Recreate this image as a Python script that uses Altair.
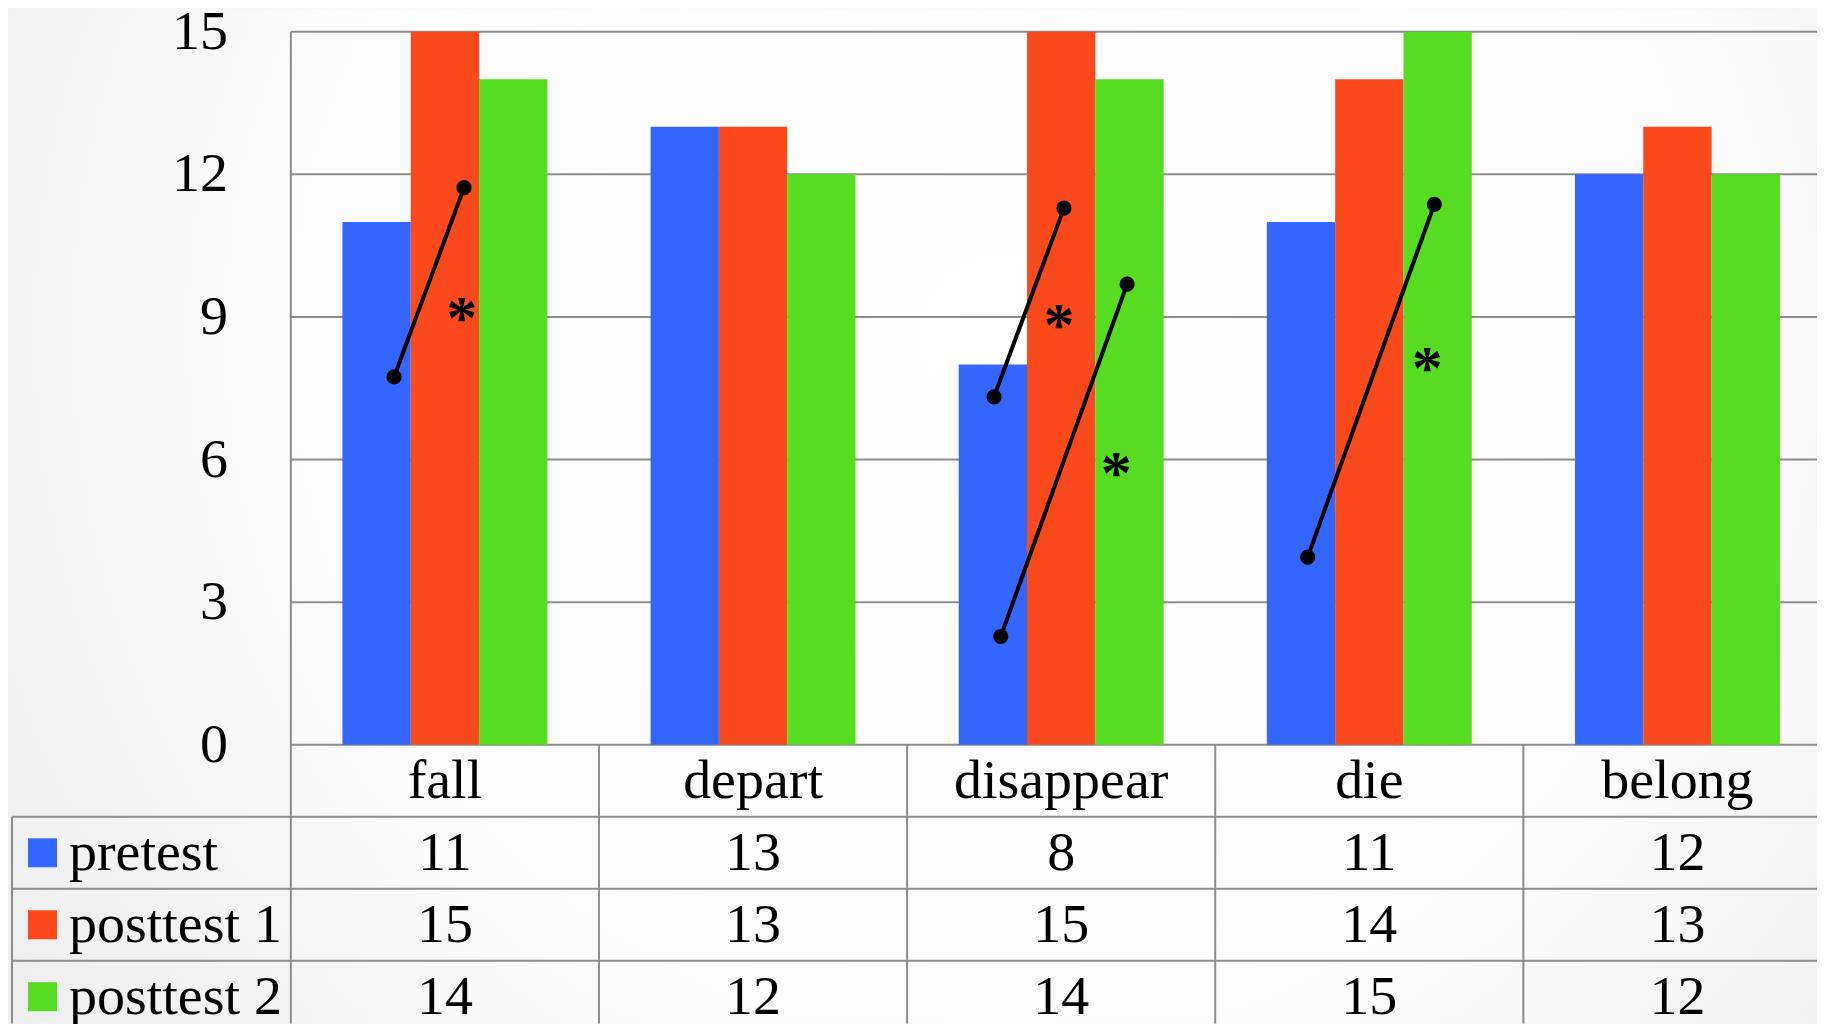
import altair as alt
import pandas as pd

# ---------------- data ----------------
categories = ["fall", "depart", "disappear", "die", "belong"]
series = ["pretest", "posttest 1", "posttest 2"]
pretest = [11, 13, 8, 11, 12]
posttest1 = [15, 13, 15, 14, 13]
posttest2 = [14, 12, 14, 15, 12]
colors = ["#3366FF", "#FA4A1B", "#56DD21"]
y_ticks = [0, 3, 6, 9, 12, 15]

# significance connectors (category, start offset/value, end offset/value)
sig_cat = ["fall", "disappear", "disappear", "die"]
sig_x1 = [0.335, 0.282, 0.304, 0.300]
sig_y1 = [7.74, 7.32, 2.28, 3.95]
sig_x2 = [0.562, 0.509, 0.714, 0.711]
sig_y2 = [11.72, 11.29, 9.69, 11.37]
star_x = [0.555, 0.493, 0.679, 0.688]
star_y = [9.18, 9.04, 5.92, 8.13]

# ---------------- layout ----------------
W, H = 1810, 1016
COL_PX = 308.3
PLOT_LEFT = 283.0         # px from left of svg to value axis
ZERO_PX = 737.0           # px from top of svg to y=0
UNIT_PX = 47.57           # px per y unit
XMIN = -PLOT_LEFT / COL_PX
XMAX = (W - PLOT_LEFT) / COL_PX
YMAX = ZERO_PX / UNIT_PX
YMIN = -(H - ZERO_PX) / UNIT_PX
ROW = 72.0 / UNIT_PX
TABLE_LEFT = (4.0 - PLOT_LEFT) / COL_PX
GROUP_START = 0.1675
BAR_W = 0.2217
FONT = "Liberation Serif"
FS = 56
GRID = "#8c8c8c"

xs = alt.Scale(domain=[XMIN, XMAX], nice=False, zero=False)
ys = alt.Scale(domain=[YMIN, YMAX], nice=False, zero=False)

values_by_series = [pretest, posttest1, posttest2]
rows = []
for j, s in enumerate(series):
    for i, c in enumerate(categories):
        rows.append({"cat": c, "i": i, "series": s, "j": j, "value": values_by_series[j][i]})
bars_df = pd.DataFrame(rows)

color = alt.Color("series:N", scale=alt.Scale(domain=series, range=colors), legend=None)

# background gradient
bg = alt.Chart(pd.DataFrame({"a": [0]})).mark_rect(
    fill=alt.Gradient(
        gradient="radial",
        stops=[alt.GradientStop(color="#ffffff", offset=0),
               alt.GradientStop(color="#fbfbfb", offset=0.55),
               alt.GradientStop(color="#e9e9e9", offset=1)],
        x1=0.55, y1=0.4, r1=0, x2=0.55, y2=0.4, r2=0.75,
    )
).encode(x=alt.value(0), x2=alt.value(W), y=alt.value(0), y2=alt.value(H))

# horizontal gridlines in plot area
grid_df = pd.DataFrame({"t": y_ticks})
grid = alt.Chart(grid_df).mark_rule(color=GRID, strokeWidth=2, clip=True).transform_calculate(
    x0="0", x1=str(XMAX)
).encode(
    y=alt.Y("t:Q", scale=ys, axis=None),
    x=alt.X("x0:Q", scale=xs, axis=None),
    x2="x1:Q",
)

# y tick labels
ylab = alt.Chart(grid_df).mark_text(
    font=FONT, fontSize=FS, align="right", baseline="middle", color="black"
).transform_calculate(xl="-0.204").encode(
    y=alt.Y("t:Q", scale=ys, axis=None),
    x=alt.X("xl:Q", scale=xs, axis=None),
    text="t:Q",
)

# bars
bars = alt.Chart(bars_df).mark_rect(clip=True).transform_calculate(
    x0=f"datum.i + {GROUP_START} + datum.j * {BAR_W}",
    x1=f"datum.i + {GROUP_START} + (datum.j + 1) * {BAR_W}",
).encode(
    x=alt.X("x0:Q", scale=xs, axis=None),
    x2="x1:Q",
    y=alt.Y("value:Q", scale=ys, axis=None),
    y2=alt.datum(0),
    color=color,
)

# table lines
vl_rows = []
vl_rows.append({"x": 0.0, "ya": YMIN, "yb": 15.0})
for k in range(1, 5):
    vl_rows.append({"x": float(k), "ya": YMIN, "yb": 0.0})
vl_rows.append({"x": TABLE_LEFT, "ya": YMIN, "yb": -ROW})
vlines = alt.Chart(pd.DataFrame(vl_rows)).mark_rule(color=GRID, strokeWidth=2, clip=True).encode(
    x=alt.X("x:Q", scale=xs, axis=None),
    y=alt.Y("ya:Q", scale=ys, axis=None),
    y2="yb:Q",
)
hl_df = pd.DataFrame({"r": [1, 2, 3]})
hlines = alt.Chart(hl_df).mark_rule(color=GRID, strokeWidth=2, clip=True).transform_calculate(
    yy=f"-datum.r * {ROW}", xa=str(TABLE_LEFT), xb=str(XMAX)
).encode(
    y=alt.Y("yy:Q", scale=ys, axis=None),
    x=alt.X("xa:Q", scale=xs, axis=None),
    x2="xb:Q",
)

# category labels
cat_df = pd.DataFrame({"cat": categories, "i": list(range(len(categories)))})
cat_text = alt.Chart(cat_df).mark_text(
    font=FONT, fontSize=FS, align="center", baseline="middle", color="black"
).transform_calculate(
    xc="datum.i + 0.5", yc=f"-0.5 * {ROW}"
).encode(
    x=alt.X("xc:Q", scale=xs, axis=None),
    y=alt.Y("yc:Q", scale=ys, axis=None),
    text="cat:N",
)

# value cells
val_text = alt.Chart(bars_df).mark_text(
    font=FONT, fontSize=FS, align="center", baseline="middle", color="black"
).transform_calculate(
    xc="datum.i + 0.5", yc=f"-(datum.j + 1.5) * {ROW}"
).encode(
    x=alt.X("xc:Q", scale=xs, axis=None),
    y=alt.Y("yc:Q", scale=ys, axis=None),
    text="value:Q",
)

# legend column
leg_df = pd.DataFrame({"series": series, "j": [0, 1, 2]})
leg_sw = alt.Chart(leg_df).mark_square(size=841, opacity=1, filled=True).transform_calculate(
    xc="-0.806", yc=f"-(datum.j + 1.5) * {ROW}"
).encode(
    x=alt.X("xc:Q", scale=xs, axis=None),
    y=alt.Y("yc:Q", scale=ys, axis=None),
    color=color,
)
leg_text = alt.Chart(leg_df).mark_text(
    font=FONT, fontSize=FS, align="left", baseline="middle", color="black"
).transform_calculate(
    xc="-0.72", yc=f"-(datum.j + 1.5) * {ROW}"
).encode(
    x=alt.X("xc:Q", scale=xs, axis=None),
    y=alt.Y("yc:Q", scale=ys, axis=None),
    text="series:N",
)

# significance connectors
seg_rows = []
for k in range(len(sig_cat)):
    ci = categories.index(sig_cat[k])
    seg_rows.append({"seg": k, "i": ci, "off": sig_x1[k], "v": sig_y1[k]})
    seg_rows.append({"seg": k, "i": ci, "off": sig_x2[k], "v": sig_y2[k]})
seg_df = pd.DataFrame(seg_rows)
seg_lines = alt.Chart(seg_df).mark_line(color="black", strokeWidth=4).transform_calculate(
    xc="datum.i + datum.off"
).encode(
    x=alt.X("xc:Q", scale=xs, axis=None),
    y=alt.Y("v:Q", scale=ys, axis=None),
    detail="seg:N",
    order="off:Q",
)
seg_pts = alt.Chart(seg_df).mark_circle(color="black", size=230, opacity=1).transform_calculate(
    xc="datum.i + datum.off"
).encode(
    x=alt.X("xc:Q", scale=xs, axis=None),
    y=alt.Y("v:Q", scale=ys, axis=None),
)
star_df = pd.DataFrame({
    "i": [categories.index(c) for c in sig_cat], "off": star_x, "v": star_y, "s": ["*"] * len(star_x)
})
stars = alt.Chart(star_df).mark_text(
    font=FONT, fontSize=62, fontWeight="bold", align="center", baseline="alphabetic", dy=30, color="black"
).transform_calculate(
    xc="datum.i + datum.off"
).encode(
    x=alt.X("xc:Q", scale=xs, axis=None),
    y=alt.Y("v:Q", scale=ys, axis=None),
    text="s:N",
)

chart = alt.layer(
    bg, grid, bars, vlines, hlines, ylab, cat_text, val_text, leg_sw, leg_text,
    seg_lines, seg_pts, stars
).properties(
    width=W, height=H, padding=0, background="#f4f4f4",
    autosize=alt.AutoSizeParams(type="none"),
).configure_view(stroke=None)

chart.save("out.html", embed_options={"renderer": "svg", "actions": False})
